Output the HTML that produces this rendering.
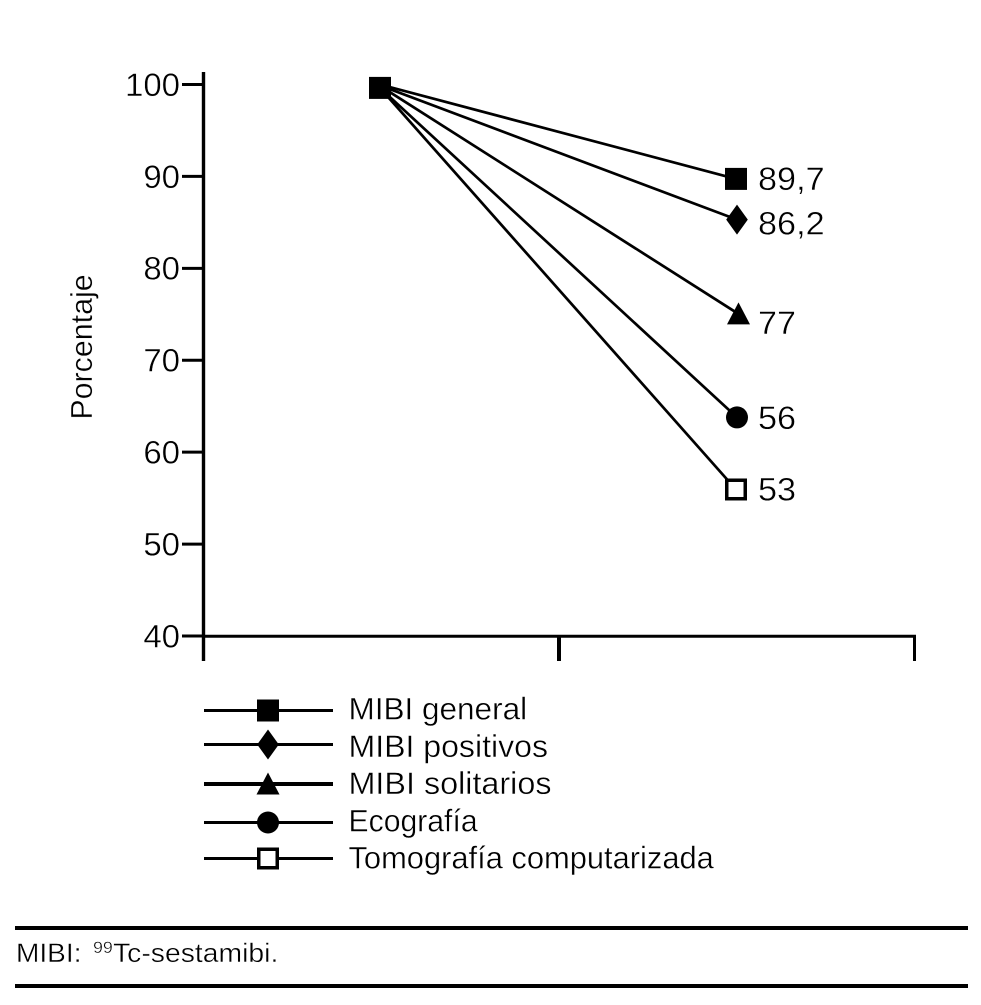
<!DOCTYPE html>
<html>
<head>
<meta charset="utf-8">
<style>
html,body{margin:0;padding:0;background:#fff;width:981px;height:1005px;overflow:hidden}
svg{display:block}
text{font-family:"Liberation Sans",sans-serif;fill:#000;stroke:#fff;stroke-width:.4px}
</style>
</head>
<body>
<svg id="chart" width="981" height="1005" viewBox="0 0 981 1005" xmlns="http://www.w3.org/2000/svg"></svg>
<script>
const yTicks = [100, 90, 80, 70, 60, 50, 40];
const seriesNames = ["MIBI general", "MIBI positivos", "MIBI solitarios", "Ecografía", "Tomografía computarizada"];
const seriesKeys = ["square", "diamond", "triangle", "circle", "open-square"];
const startValues = [100, 99.9, 99.85, 99.63, 99.63];
const endValues = [89.73, 85.3, 75.04, 63.78, 55.94];
const printedValues = ["89,7", "86,2", "77", "56", "53"];
const startMarkerValue = 99.63;

const legendStretch = [1.0, 1.018, 1.027, 0.958, 0.98];
const labelDrop = {square: 11, diamond: 14.8, triangle: 20, circle: 11.5, 'open-square': 11};
const endShift = {square: 736, diamond: 737, triangle: 738.5, circle: 737, 'open-square': 736};

const svg = document.getElementById('chart');
const NS = 'http://www.w3.org/2000/svg';
function y(v){ return 636 - (v - 40) * 551.5 / 60; }
function mk(tag, attrs, parent){
  const e = document.createElementNS(NS, tag);
  for (const k in attrs) e.setAttribute(k, attrs[k]);
  (parent || svg).appendChild(e);
  return e;
}
function txt(str, px, py, size, sx, anchor, parent){
  const e = mk('text',{transform:`translate(${px},${py}) scale(${sx},1)`,'font-size':size,'text-anchor':anchor||'start'},parent);
  e.textContent = str;
  return e;
}
function marker(kind, cx, cy, parent){
  if (kind === 'square') return mk('rect',{x:cx-11,y:cy-11,width:22,height:22,fill:'#000'},parent);
  if (kind === 'diamond') return mk('polygon',{points:`${cx},${cy-15} ${cx+10.8},${cy} ${cx},${cy+15} ${cx-10.8},${cy}`,fill:'#000'},parent);
  if (kind === 'triangle') return mk('polygon',{points:`${cx},${cy-11.5} ${cx+11.5},${cy+10.5} ${cx-11.5},${cy+10.5}`,fill:'#000'},parent);
  if (kind === 'circle') return mk('circle',{cx:cx,cy:cy,r:11,fill:'#000'},parent);
  return mk('rect',{x:cx-9.25,y:cy-9.25,width:18.5,height:18.5,fill:'#fff',stroke:'#000','stroke-width':3.5},parent);
}

// axes
const axes = mk('g',{});


const yAxis = mk('line',{x1:203.5,y1:72,x2:203.5,y2:661,stroke:'#000','stroke-width':3.4},axes);


const xAxis = mk('line',{x1:202,y1:636.2,x2:916,y2:636.2,stroke:'#000','stroke-width':3},axes);


const tickMid = mk('line',{x1:559,y1:636,x2:559,y2:661,stroke:'#000','stroke-width':4},axes);


const tickEnd = mk('line',{x1:914.5,y1:636,x2:914.5,y2:661,stroke:'#000','stroke-width':3},axes);


yTicks.forEach(function(v){
  const t = mk('line',{x1:182,y1:y(v),x2:204,y2:y(v),stroke:'#000','stroke-width':3},axes);
  
  
  const l = txt(String(v),180,y(v)+11.4,32,1.03,'end',axes);
  
  
});
const yTitle = mk('text',{transform:'translate(92,347) rotate(-90) scale(0.98,1)','text-anchor':'middle','font-size':31});


yTitle.textContent = 'Porcentaje';

// series
seriesNames.forEach(function(n,i){
  const key = seriesKeys[i];
  const g = mk('g',{});
  
  
  const ex = endShift[key];
  const ln = mk('line',{x1:380,y1:y(startValues[i]),x2:ex,y2:y(endValues[i]),stroke:'#000','stroke-width':2.7},g);
  
  
  const m = marker(key,ex,y(endValues[i]),g);
  
  
  const lb = txt(printedValues[i],758,y(endValues[i])+labelDrop[key]+0.2,32,1.07,'start',g);
  
  
});
const startM = marker('square',380,y(startMarkerValue),svg);



// legend
seriesNames.forEach(function(n,i){
  const key = seriesKeys[i];
  const g = mk('g',{});
  
  
  const rowGaps = {square: 710.5, diamond: 744.5, triangle: 784, circle: 822.5, 'open-square': 858.5};
  const ly = rowGaps[key];
  const ln = mk('line',{x1:204,y1:ly,x2:333,y2:ly,stroke:'#000','stroke-width':key === 'triangle' ? 4 : 3},g);
  
  
  const m = marker(key,268,ly,g);
  
  
  const t = txt(n,348.5,719.5 + 37.25 * i,31.5,legendStretch[i],'start',g);
  
  
});

// footnote
const r1 = mk('rect',{x:15,y:926,width:953,height:4,fill:'#000'});


const r2 = mk('rect',{x:15,y:984,width:953,height:4,fill:'#000'});


const fnGroup = mk('g',{});


txt('MIBI:',16,962,27,1.04,'start',fnGroup);
txt('99',93,953,17,1.05,'start',fnGroup);
txt('Tc-sestamibi.',113,962,27,1.05,'start',fnGroup);
</script>
</body>
</html>
